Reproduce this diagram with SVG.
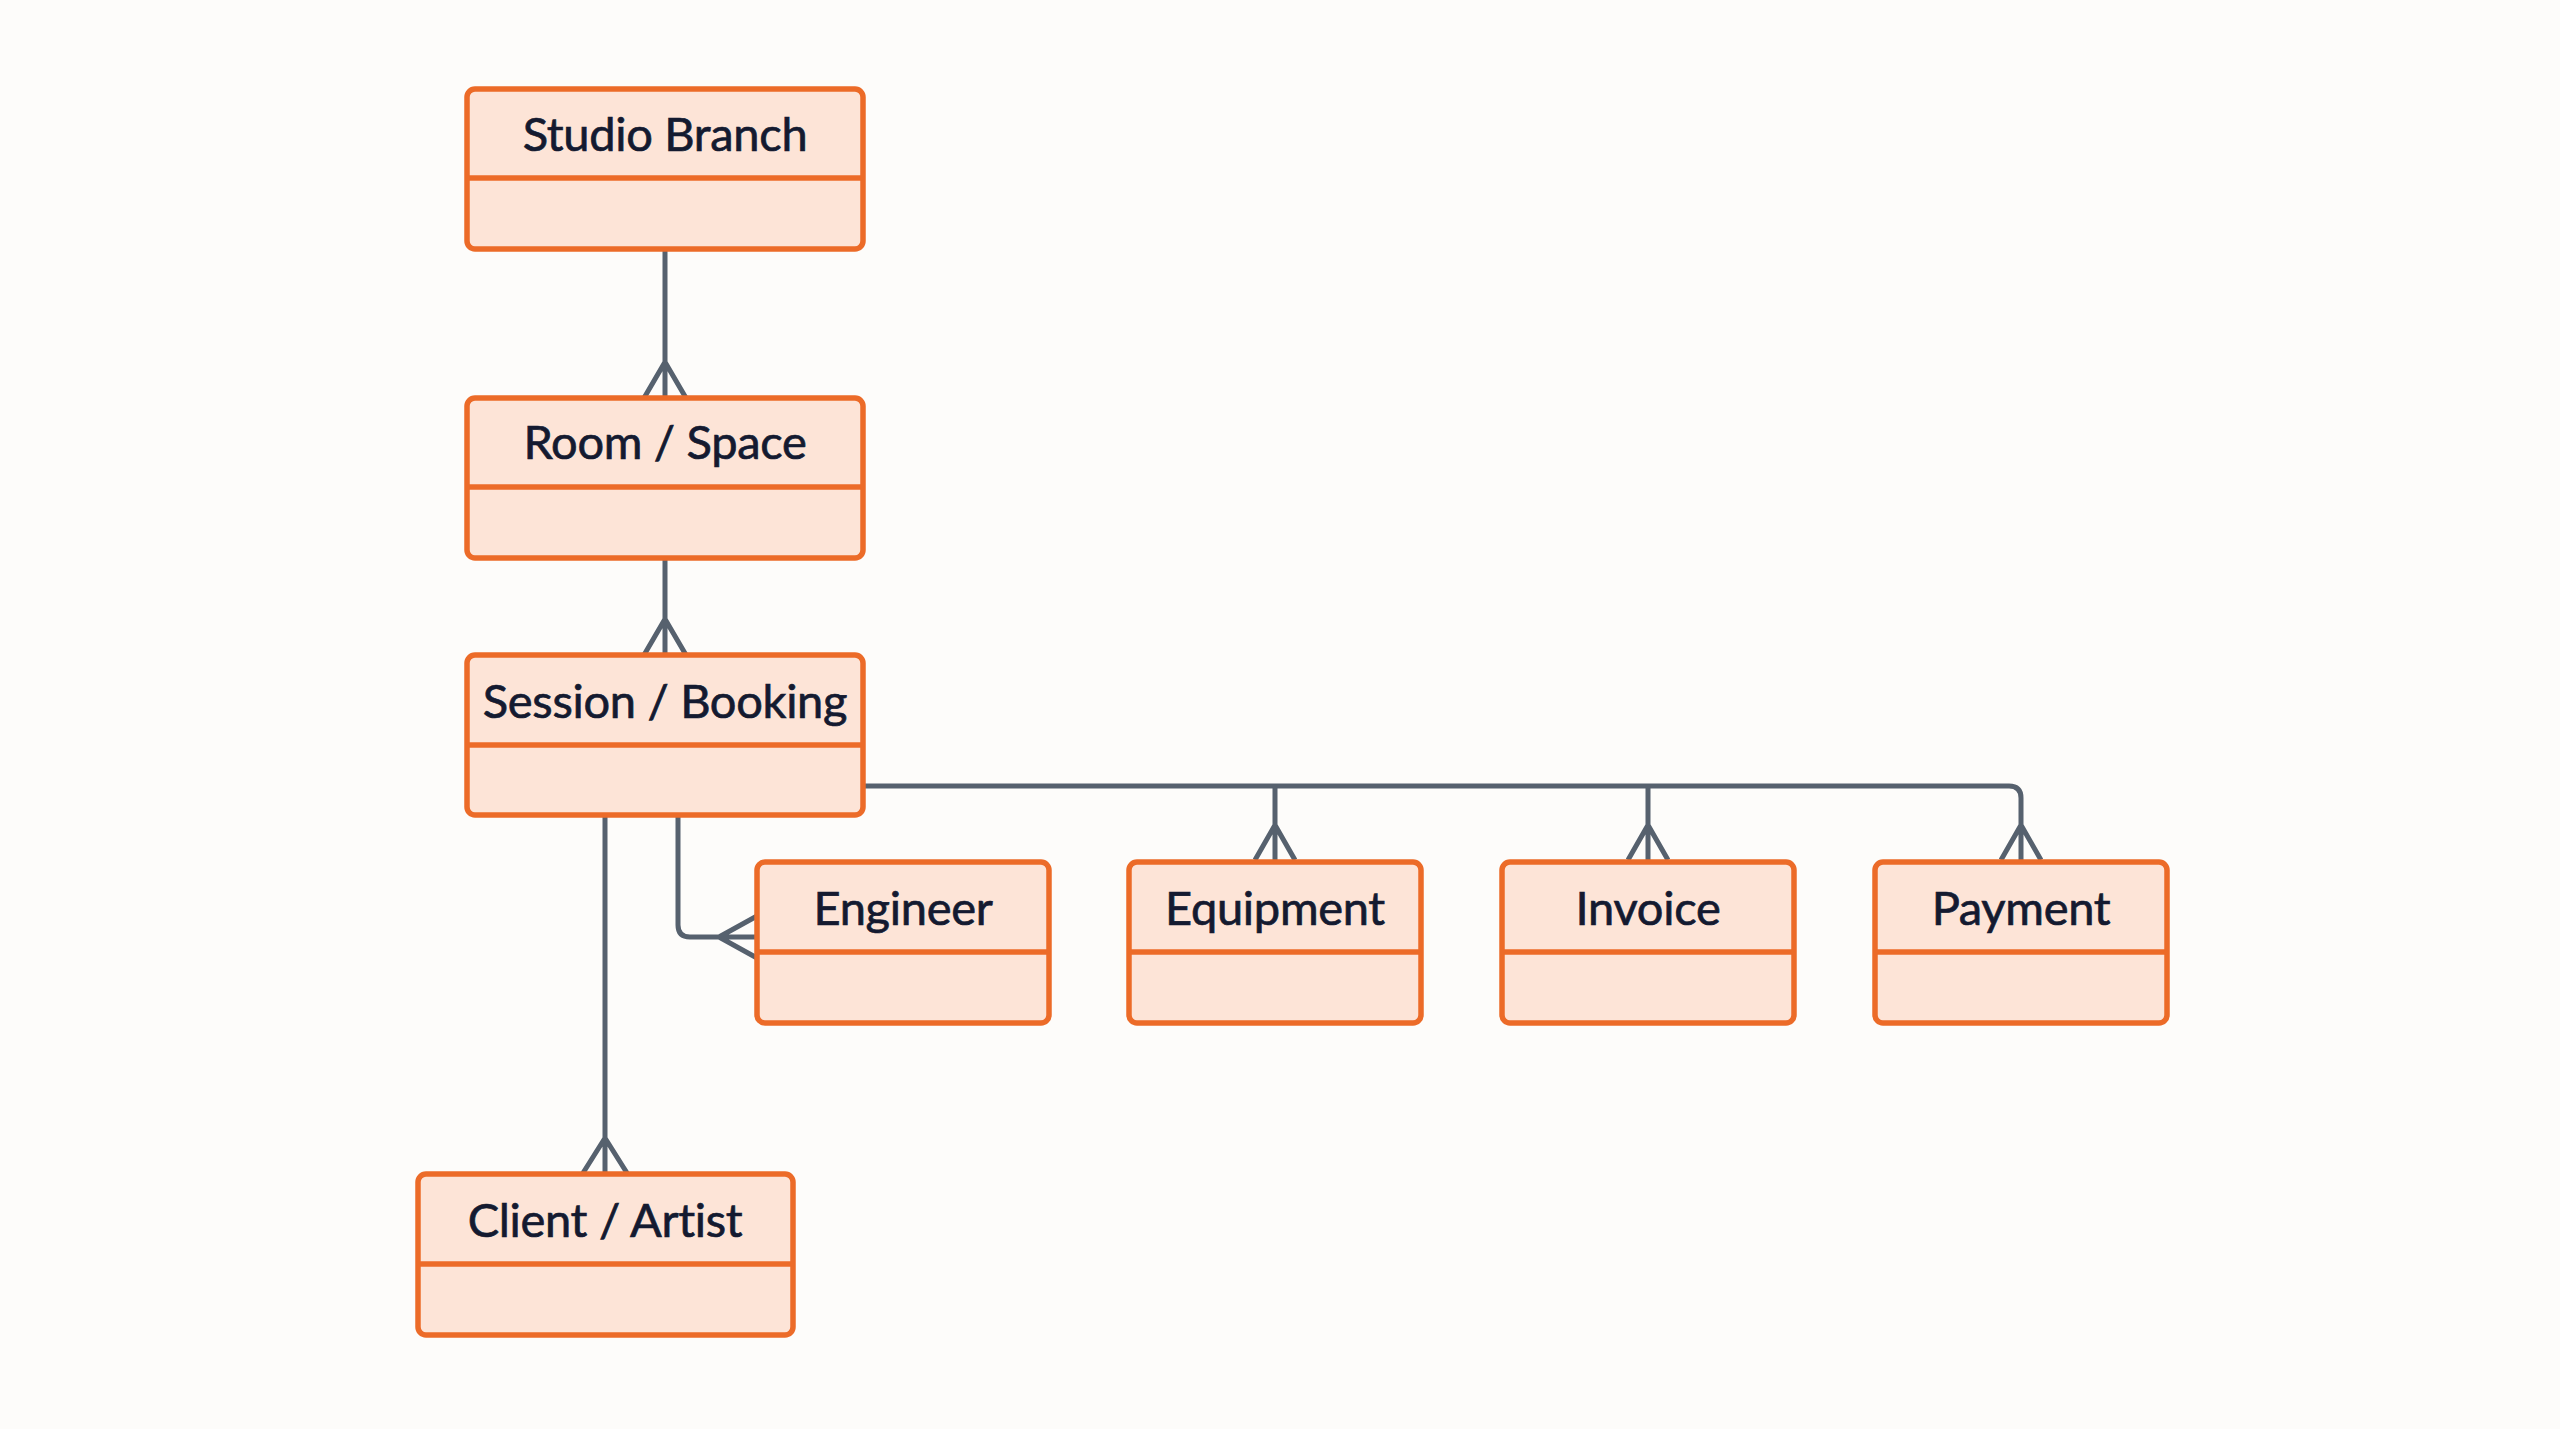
<svg xmlns="http://www.w3.org/2000/svg" width="2560" height="1429" viewBox="0 0 2560 1429">
<style>
.box{fill:#fde4d7;stroke:#ec6b28;stroke-width:5.5}
.hdr{stroke:#ec6b28;stroke-width:5.5;fill:none}
.lbl{font-family:Lato,"Open Sans","Liberation Sans",sans-serif;font-size:47px;fill:#141a30;stroke:#141a30;stroke-width:0.7;letter-spacing:-0.3px;text-anchor:middle}
.con{fill:none;stroke:#56616e;stroke-width:5;stroke-linejoin:round}
</style>
<rect width="2560" height="1429" fill="#fdfcfa"/>
<g id="connectors">
<path class="con" d="M665 249V398M644 398L665 362L686 398"/>
<path class="con" d="M665 558V655M644 655L665 619L686 655"/>
<path class="con" d="M605 815V1173M583 1173L605 1138L627 1173"/>
<path class="con" d="M678 815V925Q678 937 690 937H757M757 916L719 937L757 958"/>
<path class="con" d="M863 786H2009Q2021 786 2021 798V860M2001 860L2021 825L2041 860"/>
<path class="con" d="M1275 786V860M1255 860L1275 825L1295 860"/>
<path class="con" d="M1648 786V860M1628 860L1648 825L1668 860"/>
</g>
<g id="studio-branch">
<rect class="box" x="467" y="89" width="396" height="160" rx="8"/>
<line class="hdr" x1="467" y1="178" x2="863" y2="178"/>
<text class="lbl" x="665" y="151">Studio Branch</text>
</g>
<g id="room-space">
<rect class="box" x="467" y="398" width="396" height="160" rx="8"/>
<line class="hdr" x1="467" y1="487" x2="863" y2="487"/>
<text class="lbl" x="665" y="459">Room / Space</text>
</g>
<g id="session-booking">
<rect class="box" x="467" y="655" width="396" height="160" rx="8"/>
<line class="hdr" x1="467" y1="745" x2="863" y2="745"/>
<text class="lbl" x="665" y="718">Session / Booking</text>
</g>
<g id="engineer">
<rect class="box" x="757" y="862" width="292" height="161" rx="8"/>
<line class="hdr" x1="757" y1="952" x2="1049" y2="952"/>
<text class="lbl" x="903" y="925">Engineer</text>
</g>
<g id="equipment">
<rect class="box" x="1129" y="862" width="292" height="161" rx="8"/>
<line class="hdr" x1="1129" y1="952" x2="1421" y2="952"/>
<text class="lbl" x="1275" y="925">Equipment</text>
</g>
<g id="invoice">
<rect class="box" x="1502" y="862" width="292" height="161" rx="8"/>
<line class="hdr" x1="1502" y1="952" x2="1794" y2="952"/>
<text class="lbl" x="1648" y="925">Invoice</text>
</g>
<g id="payment">
<rect class="box" x="1875" y="862" width="292" height="161" rx="8"/>
<line class="hdr" x1="1875" y1="952" x2="2167" y2="952"/>
<text class="lbl" x="2021" y="925">Payment</text>
</g>
<g id="client-artist">
<rect class="box" x="418" y="1174" width="375" height="161" rx="8"/>
<line class="hdr" x1="418" y1="1264" x2="793" y2="1264"/>
<text class="lbl" x="605" y="1237">Client / Artist</text>
</g>
</svg>
